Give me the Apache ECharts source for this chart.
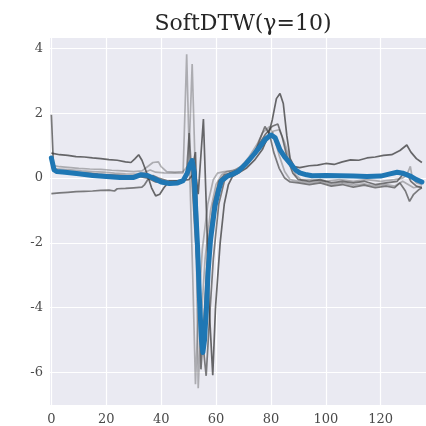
<!DOCTYPE html>
<html>
<head>
<meta charset="utf-8">
<script src="https://cdn.jsdelivr.net/npm/echarts@6/dist/echarts.min.js"></script>
<style>
  html, body { margin: 0; padding: 0; background: #ffffff; }
  #chart { width: 426px; height: 426px; }
</style>
</head>
<body>
<div id="chart"></div>
<script>
// Title and axis tick values
const titleText = 'SoftDTW(\u03b3=10)';
const xTicks = [0, 20, 40, 60, 80, 100, 120];
const yTicks = [-6, -4, -2, 0, 2, 4];

// Individual time series, [t, value]
const seriesA = [[0,-0.48],[3,-0.46],[6,-0.44],[9,-0.42],[12,-0.41],[15,-0.4],[18,-0.38],[21,-0.37],[23,-0.4],[24,-0.33],[27,-0.32],[30,-0.3],[33,-0.28],[34,-0.2],[35.5,0.0],[37,0.08],[39,0.0],[42,-0.08],[45,-0.1],[48,-0.08],[49.3,0.2],[50.2,1.39],[51.2,0.0],[52.2,-1.5],[54.5,-4.5],[56.4,-6.1],[57.5,-4.5],[59,-2.5],[61,-0.8],[63,-0.1],[65,0.15],[68,0.22],[71,0.4],[74,0.75],[76,1.2],[77.8,1.59],[79.5,1.35],[81,0.8],[83,0.3],[85,0.0],[87,-0.12],[90,-0.15],[94,-0.2],[98,-0.15],[102,-0.25],[106,-0.2],[110,-0.28],[114,-0.22],[118,-0.3],[122,-0.25],[125,-0.3],[127,-0.15],[129,-0.4],[130.5,-0.72],[132,-0.5],[134,-0.35],[135,-0.3]];
const seriesB = [[0,0.4],[3,0.35],[6,0.33],[10,0.3],[14,0.28],[18,0.27],[22,0.24],[26,0.22],[30,0.2],[33,0.22],[35,0.35],[37,0.48],[39,0.5],[40,0.35],[42,0.2],[45,0.18],[48,0.2],[50,0.4],[51.3,3.52],[52.5,0.0],[53.5,-6.48],[54.5,-4.5],[56,-2.5],[58,-1.0],[60,-0.2],[62,0.1],[64,0.2],[67,0.25],[70,0.4],[73,0.6],[76,0.9],[79,1.2],[81,1.45],[83,1.49],[85,1.1],[87,0.5],[89,0.1],[91,-0.05],[95,-0.05],[100,-0.1],[105,-0.05],[110,-0.1],[115,-0.05],[120,-0.1],[125,-0.05],[128,0.0],[129.5,0.1],[130.8,0.36],[131.5,0.0],[133,-0.15],[135,-0.2]];
const seriesC = [[0,1.95],[0.8,0.3],[2,0.22],[5,0.2],[9,0.17],[13,0.15],[17,0.12],[21,0.1],[25,0.08],[29,0.06],[32,0.05],[35,0.0],[38,-0.12],[42,-0.15],[45,-0.15],[48,-0.1],[50,0.2],[51.5,0.4],[52.5,0.8],[53.3,-1.5],[54.5,-5.9],[55.5,-4.5],[57,-2.2],[59,-0.8],[61,-0.1],[63,0.1],[66,0.18],[69,0.3],[72,0.55],[75,0.95],[78,1.35],[80.5,1.6],[82.5,1.67],[84,1.3],[86,0.6],[88,0.15],[90,-0.05],[94,-0.1],[98,-0.05],[102,-0.15],[106,-0.1],[110,-0.15],[114,-0.1],[118,-0.2],[122,-0.15],[126,-0.1],[128,0.1],[129.5,0.15],[131,-0.1],[133,-0.25],[135,-0.3]];
const seriesD = [[0,0.77],[3,0.72],[6,0.7],[9,0.66],[12,0.65],[15,0.62],[18,0.6],[21,0.57],[24,0.55],[27,0.5],[29,0.48],[30.5,0.6],[31.8,0.72],[33,0.55],[35,0.1],[36.5,-0.3],[38,-0.55],[39.5,-0.5],[41,-0.3],[43,-0.1],[46,-0.08],[50,-0.05],[52.5,0.2],[53.5,-0.5],[55.4,1.82],[56.5,-1.0],[57.5,-4.0],[58.8,-6.08],[59.8,-4.0],[61.5,-2.0],[63,-0.8],[64.5,-0.2],[66,0.05],[68,0.15],[71,0.3],[74,0.55],[77,0.9],[79,1.3],[80.5,1.8],[82,2.45],[83.3,2.61],[84.5,2.3],[85.8,1.3],[87,0.6],[88.5,0.35],[90.5,0.32],[94,0.38],[97,0.4],[100,0.45],[103,0.42],[106,0.5],[109,0.56],[112,0.55],[115,0.62],[118,0.65],[121,0.7],[124,0.72],[127,0.85],[129.5,1.02],[131,0.8],[133,0.6],[135,0.48]];
const seriesE = [[0,0.3],[3,0.28],[7,0.25],[11,0.22],[15,0.2],[19,0.18],[23,0.15],[27,0.13],[31,0.12],[34,0.18],[36,0.25],[38,0.18],[41,0.16],[45,0.15],[48,0.16],[49.3,3.82],[50.3,0.5],[51.5,-3.0],[52.5,-6.36],[53.5,-4.2],[55,-2.2],[57,-0.8],[59,-0.05],[60.5,0.15],[63,0.2],[66,0.22],[69,0.35],[72,0.65],[75,1.05],[77,1.4],[79.6,1.59],[81,1.3],[83,0.7],[85,0.2],[87,-0.05],[90,-0.1],[94,-0.15],[98,-0.1],[102,-0.2],[106,-0.15],[110,-0.22],[114,-0.18],[118,-0.25],[122,-0.2],[125,-0.25],[128,-0.1],[130,-0.2],[132,-0.3],[135,-0.25]];

// Soft-DTW barycenter, [t, value]
const barycenter = [[0,0.62],[1,0.25],[2,0.2],[5,0.18],[10,0.13],[15,0.08],[20,0.05],[25,0.02],[30,0.02],[32.5,0.1],[35,0.08],[37,0.0],[40,-0.12],[43,-0.17],[46,-0.15],[48,-0.08],[49.5,0.15],[50.5,0.42],[51.3,0.54],[52,0.2],[52.5,-0.8],[53.2,-2.0],[54,-3.8],[54.7,-5.0],[55.2,-5.38],[55.8,-5.0],[56.5,-4.0],[57.1,-2.9],[58,-1.9],[59.6,-0.87],[61,-0.35],[62,-0.08],[64,0.05],[66,0.12],[68,0.2],[71,0.45],[74,0.75],[76,0.97],[78,1.2],[80,1.33],[81.5,1.25],[83.3,0.87],[85,0.65],[87,0.45],[89,0.25],[90.5,0.16],[93,0.1],[95,0.07],[100,0.08],[105,0.07],[110,0.06],[115,0.05],[120,0.06],[123,0.12],[126,0.18],[128,0.15],[131,0.05],[133,-0.05],[135,-0.12]];

const grayLines = [
  { data: seriesA, color: 'rgba(60,60,60,0.65)' },
  { data: seriesB, color: 'rgba(80,80,80,0.4)' },
  { data: seriesC, color: 'rgba(50,50,50,0.65)' },
  { data: seriesD, color: 'rgba(50,50,50,0.72)' },
  { data: seriesE, color: 'rgba(80,80,80,0.4)' }
];

const chart = echarts.init(document.getElementById('chart'), null, { renderer: 'canvas' });

const labelFont = { fontFamily: 'DejaVu Serif', fontSize: 13, color: '#4a4a4a' };

const series = grayLines.map(g => ({
  type: 'line',
  data: g.data,
  showSymbol: false,
  symbol: 'none',
  lineStyle: { color: g.color, width: 1.7 },
  silent: true,
  z: 2
}));
series.push({
  type: 'line',
  data: barycenter,
  showSymbol: false,
  symbol: 'none',
  lineStyle: { color: '#1f77b4', width: 5, cap: 'round', join: 'round' },
  silent: true,
  z: 3
});

chart.setOption({
  animation: false,
  backgroundColor: '#ffffff',
  title: {
    text: titleText,
    left: 238,
    textAlign: 'center',
    top: 8,
    textStyle: { fontFamily: 'DejaVu Serif', fontSize: 22, fontWeight: 'normal', color: '#262626' }
  },
  grid: {
    left: 50, right: 0, top: 38, bottom: 21,
    show: true, backgroundColor: '#EAEAF2', borderWidth: 0
  },
  xAxis: {
    type: 'value',
    min: -0.5, max: 136.5,
    axisLine: { show: false },
    axisTick: { show: false, customValues: xTicks },
    axisLabel: { ...labelFont, margin: 8, customValues: xTicks },
    splitLine: { show: true, lineStyle: { color: '#ffffff', width: 1.2 } }
  },
  yAxis: {
    type: 'value',
    min: -7.0, max: 4.32,
    axisLine: { show: false },
    axisTick: { show: false, customValues: yTicks },
    axisLabel: { ...labelFont, margin: 7, customValues: yTicks },
    splitLine: { show: true, lineStyle: { color: '#ffffff', width: 1.2 } }
  },
  series: series
});
</script>
</body>
</html>
